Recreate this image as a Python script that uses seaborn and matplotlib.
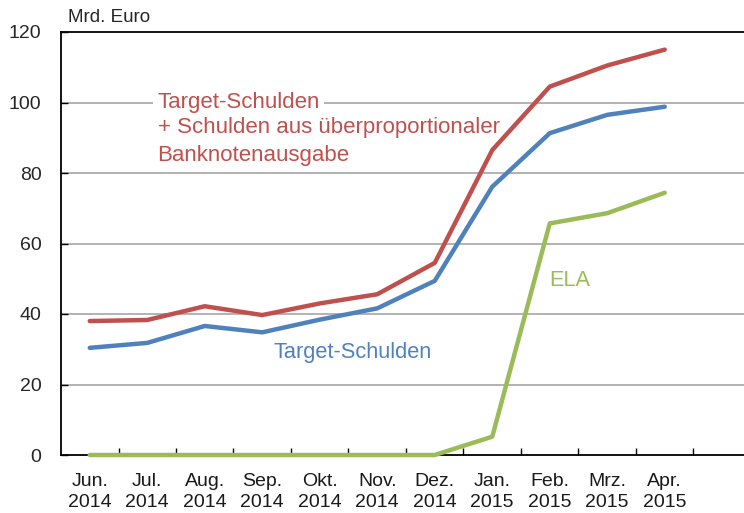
import numpy as np
import pandas as pd
import seaborn as sns
import matplotlib.pyplot as plt
from matplotlib.ticker import FixedLocator

# Daten (Mrd. Euro)
monate = ['Jun.\n2014', 'Jul.\n2014', 'Aug.\n2014', 'Sep.\n2014', 'Okt.\n2014', 'Nov.\n2014',
          'Dez.\n2014', 'Jan.\n2015', 'Feb.\n2015', 'Mrz.\n2015', 'Apr.\n2015']
target_plus = [38.0, 38.3, 42.2, 39.7, 43.0, 45.6, 54.5, 86.5, 104.5, 110.5, 115.0]
target = [30.4, 31.8, 36.6, 34.8, 38.4, 41.6, 49.4, 76.1, 91.3, 96.5, 98.8]
ela = [0, 0, 0, 0, 0, 0, 0, 5.2, 65.7, 68.6, 74.4]

rot = '#C0504D'
blau = '#4F81BD'
gruen = '#9BBB59'

df = pd.DataFrame({'pos': np.arange(len(monate)),
                   'plus': target_plus, 'target': target, 'ela': ela})

sns.set_style('white')
plt.rcParams['font.family'] = ['Liberation Sans', 'DejaVu Sans']

fig = plt.figure(figsize=(7.44, 5.13), dpi=100)
ax = fig.add_axes([61 / 744, 58 / 513, 690 / 744, 423 / 513])

# Gitterlinien
for y in [20, 40, 60, 80, 100]:
    ax.axhline(y, color='#A6A6A6', lw=1.2, zorder=0)

sns.lineplot(data=df, x='pos', y='plus', color=rot, lw=3.2, ax=ax, zorder=3)
sns.lineplot(data=df, x='pos', y='target', color=blau, lw=3.2, ax=ax, zorder=3)
sns.lineplot(data=df, x='pos', y='ela', color=gruen, lw=3.2, ax=ax, zorder=4)
for l in ax.lines[5:]:
    l.set_solid_capstyle('round')
    l.set_clip_on(False)

ax.set_xlim(-0.5, 11.5)
ax.set_ylim(0, 120)
ax.set_xlabel('')
ax.set_ylabel('')

ax.set_xticks(np.arange(len(monate)))
ax.set_xticklabels(monate, fontsize=14, linespacing=1.3)
ax.xaxis.set_minor_locator(FixedLocator(np.arange(0.5, 11.5, 1)))
ax.tick_params(axis='x', which='major', length=0, pad=13, colors='#1a1a1a')
ax.tick_params(axis='x', which='minor', direction='in', length=5, width=1, color='black', bottom=True)
ax.set_yticks([0, 20, 40, 60, 80, 100, 120])
ax.tick_params(axis='y', direction='in', length=5, width=1, color='black', pad=14,
               labelsize=14, left=True)

for s in ['left', 'bottom', 'top']:
    ax.spines[s].set_color('black')
    ax.spines[s].set_linewidth(1.3)
ax.spines['right'].set_visible(False)

fig.text(68 / 744, 1 - 17 / 513, 'Mrd. Euro', fontsize=13.5, va='center', ha='left')

# Beschriftungen
ax.text(1.18, 100, 'Target-Schulden', color=rot, fontsize=16, va='center', ha='left',
        bbox=dict(facecolor='white', edgecolor='none', pad=3), zorder=2)
ax.text(1.18, 92.8, '+ Schulden aus überproportionaler', color=rot,
        fontsize=16, va='center', ha='left', zorder=2)
ax.text(1.18, 85.1, 'Banknotenausgabe', color=rot,
        fontsize=16, va='center', ha='left', zorder=2)
ax.text(3.2, 29.2, 'Target-Schulden', color=blau, fontsize=15.7, va='center', ha='left')
ax.text(8.35, 49.6, 'ELA', color=gruen, fontsize=15.7, va='center', ha='center')

fig.savefig('out.png', dpi=100)
